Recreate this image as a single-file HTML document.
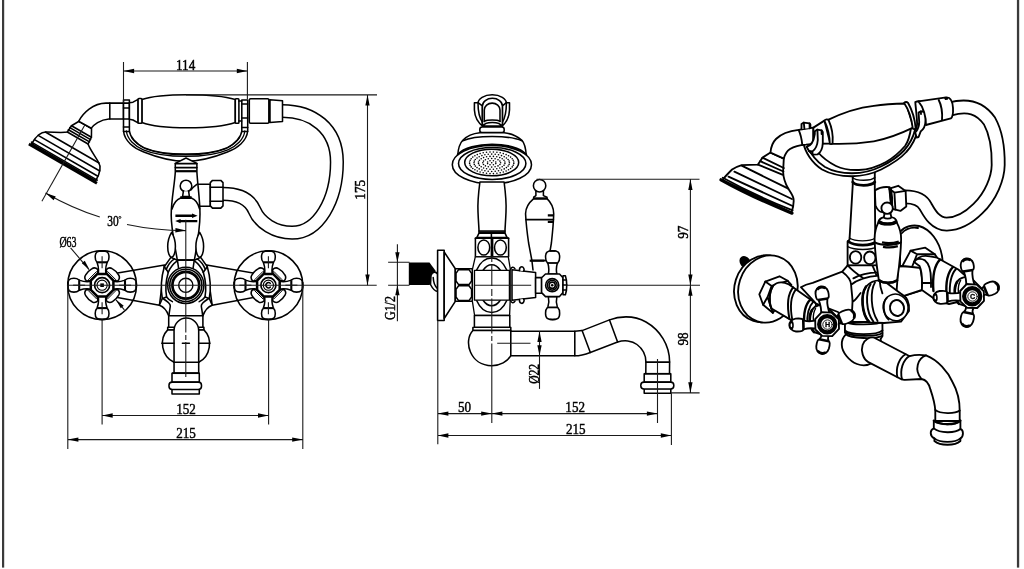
<!DOCTYPE html>
<html>
<head>
<meta charset="utf-8">
<title>Bath mixer technical drawing</title>
<style>
html,body{margin:0;padding:0;background:#fff;}
body{width:1024px;height:569px;overflow:hidden;font-family:"Liberation Serif",serif;}
svg{display:block;will-change:transform;}
.o{fill:none;stroke:#000;stroke-width:1.55;stroke-linecap:round;stroke-linejoin:round;}
.w{fill:#fff;stroke:#000;stroke-width:1.55;stroke-linecap:round;stroke-linejoin:round;}
#iso .o,#iso .w{stroke-width:1.85;}
.t{fill:none;stroke:#000;stroke-width:2.2;stroke-linecap:butt;}
.d{fill:none;stroke:#1a1a1a;stroke-width:1.1;}
.a{fill:#000;stroke:none;}
text{font-family:"Liberation Serif",serif;font-size:15px;font-weight:normal;fill:#000;stroke:#000;stroke-width:0.45px;}
</style>
</head>
<body>
<svg width="1024" height="569" viewBox="0 0 1024 569">
<rect x="0" y="0" width="1024" height="569" fill="#fff"/>
<!-- frame lines -->
<rect x="2" y="0" width="2.2" height="567.6" fill="#3a3a3a"/>
<rect x="1016.9" y="0" width="2.3" height="567.6" fill="#3a3a3a"/>

<defs>
<!-- front-view cross handle, centred at 0,0 -->
<g id="fh">
  <circle class="o" cx="0" cy="0" r="34.4"/>
  <g id="farm">
    <path class="w" d="M-4,-10 C-3.2,-15 -3.2,-18 -4.8,-22 L-5.4,-23.4 C-7.4,-25.4 -7.4,-31 -5.4,-33 C-3.5,-34.7 3.5,-34.7 5.4,-33 C7.4,-31 7.4,-25.4 5.4,-23.4 L4.8,-22 C3.2,-18 3.2,-15 4,-10 Z"/>
    <path class="t" d="M-5,-22.9 L5,-22.9" style="stroke-width:2.1"/>
    <path class="d" d="M0,-17 L0,-29"/>
    <path class="t" d="M-3.2,-34.1 L3.2,-34.1" style="stroke-width:1.7"/>
  </g>
  <use href="#farm" transform="rotate(90)"/>
  <use href="#farm" transform="rotate(180)"/>
  <use href="#farm" transform="rotate(270)"/>
  <g id="fbump">
    <path class="w" d="M-4.2,-15.6 C-6,-17.4 -8.6,-17.6 -10.4,-16.4 C-13.4,-14.6 -15.2,-12.6 -16.6,-10 C-17.6,-8.4 -17.4,-6 -15.6,-4.2 L-11.3,-4.7 L-4.7,-11.3 Z"/>
    <path class="o" d="M-5.6,-13.6 L-13.6,-5.6" style="stroke-width:1"/>
  </g>
  <use href="#fbump" transform="rotate(90)"/>
  <use href="#fbump" transform="rotate(180)"/>
  <use href="#fbump" transform="rotate(270)"/>
  <path class="w" style="stroke-width:2.5" d="M-4.7,-11.3 L4.7,-11.3 L11.3,-4.7 L11.3,4.7 L4.7,11.3 L-4.7,11.3 L-11.3,4.7 L-11.3,-4.7 Z"/>
  <circle class="o" cx="0" cy="0" r="7.5" style="stroke-width:1.7"/>
  <circle class="o" cx="0" cy="0" r="5.1" style="stroke-width:1.1"/>
</g>
<path id="ah" class="a" d="M0,0 L-10.6,-2.15 L-10.6,2.15 Z"/>
</defs>

<!-- ================= FRONT VIEW ================= -->
<g id="front">
  <!-- hose (outline via double stroke) -->
  <path d="M282.5,111 C312,111 336.9,128 336.9,162 C336.9,200.3 318.4,232.7 292.1,232.7 C275.1,232.7 259.7,222.8 254.6,210.5 C249.7,198.6 237.6,193.8 223.0,193.8" fill="none" stroke="#000" stroke-width="14.2"/>
  <path d="M282,111 C312,111 336.9,128 336.9,162 C336.9,200.3 318.4,232.7 292.1,232.7 C275.1,232.7 259.7,222.8 254.6,210.5 C249.7,198.6 237.6,193.8 222.5,193.8" fill="none" stroke="#fff" stroke-width="11.2"/>

  <!-- shower head (rotated local frame: face along x, body toward -y) -->
  <g transform="translate(62.2,164.85) rotate(30)">
    <path class="w" d="M-37,-3 C-37,-12 -35,-18 -30,-20.5 C-24,-24 -15,-28 -12,-31 L-11.5,-38.5 L-7.2,-46.2 L7.2,-46.2 L11.5,-38.5 L12,-31 C15,-28 24,-24 30,-20.5 C35,-18 37,-12 37,-3 Z"/>
    <path class="o" d="M-36.6,-8 L36.6,-8 M-35.6,-13.5 L35.6,-13.5 M-31,-20 L31,-20 M-12,-31 L12,-31 M-12.2,-33.5 L12.2,-33.5 M-12,-36 L12,-36 M-11.5,-38.5 L11.5,-38.5"/>
    <path class="t" d="M-7.2,-46.2 L7.2,-46.2" style="stroke-width:1.9"/>
    <path class="o" d="M-38,-4.3 L38,-4.3"/>
    <rect class="a" x="-39.3" y="-2.9" width="78.6" height="2.9"/>
  </g>
  <!-- pipe from head to cradle -->
  <path class="w" d="M78.6,121.3 C83,113 93,103.1 106,103.1 L123.5,103.1 L123.5,118.9 L108.9,118.9 C100,119.5 93.5,125 91.3,128.1 Z"/>
  <path class="o" d="M109.8,103.1 L109.8,118.9"/>
  <!-- head axis line -->
  <path class="d" d="M84.8,124.9 L41.9,201.2"/>

  <!-- cradle -->
  <path class="w" d="M123.5,100 L123.5,131 C124.5,141 134,148.5 143.8,152 C155,156.5 168,161.3 185.6,161.3 C203.2,161.3 216.2,156.5 227.4,152 C237.2,148.5 246.7,141 247.7,131 L247.7,100 L241.8,100 L241.8,131 C241.2,137 235.2,143.5 227.4,147.6 C217.2,152 203.2,154.1 185.6,154.1 C168,154.1 154,152 143.8,147.6 C136,143.5 130,137 129.4,131 L129.4,100 Z"/>
  <path class="o" d="M126.4,131 C127.2,139 134.4,146 143.4,149.8 C154,154.3 168,156.3 185.6,156.3 C203.2,156.3 217.2,154.3 227.8,149.8 C236.8,146 244,139 244.8,131" style="stroke-width:1.3"/>
  <path class="o" d="M131.5,137.5 C135,143 140,146.4 146,148.8 C156,152.6 169,154.9 185.6,154.9 C202.2,154.9 215.2,152.6 225.2,148.8 C231.2,146.4 236.2,143 239.7,137.5" style="stroke-width:1.3"/>
  <path class="o" d="M123.5,103.1 L129.4,103.1 M123.5,108 L129.4,108 M123.5,118.9 L129.4,118.9 M123.5,127 L129.4,127 M123.5,131.5 L129.4,131.5 M241.8,104 L247.7,104 M241.8,118 L247.7,118 M241.8,127.5 L247.7,127.5 M241.8,131.5 L247.7,131.5"/>
  <!-- handle -->
  <path class="w" d="M129.4,102.7 L133,102.2 L138.1,99.3 L138.1,122.9 L133,120 L129.4,119.3 Z"/>
  <path class="w" d="M141.9,99.5 C160,93.1 215,93.1 235.3,99.5 L235.3,122.5 C215,129.6 160,129.6 141.9,122.5 Z"/>
  <rect class="w" x="138.1" y="98.4" width="3.8" height="24.8" rx="0.8"/>
  <rect class="w" x="235.3" y="98.8" width="3.6" height="24.4" rx="0.8"/>
  <path class="o" d="M238.9,101 L241.6,101 M238.9,121 L241.6,121"/>
  <!-- connector -->
  <rect class="w" x="249.3" y="98.8" width="19.6" height="24.4" rx="1.2"/>
  <path class="w" d="M269.9,99.7 L282.5,100.8 L282.5,121.5 L269.9,122.4 Z"/>
  <path class="t" d="M269.4,99.3 L269.4,122.8" style="stroke-width:1.7"/>

  <!-- side outlet + nut -->
  <path class="w" d="M197,184.3 L210.3,184.3 L210.3,206.2 L199,206.2 Z"/>
  <path class="w" d="M212.5,180.4 L220.8,180.4 L223,182.6 L223,205.9 L220.8,208.1 L212.5,208.1 L210.3,205.9 L210.3,182.6 Z"/>
  <path class="o" d="M210.3,187.3 L223,187.3 M210.3,201.2 L223,201.2"/>

  <!-- support column -->
  <path class="w" d="M175.3,172 L175.3,163.4 L186,158 L196.9,163.4 L196.9,172 C197.6,185 200,200 200,214 C200,230 196.4,248 194.4,260 L177.3,260 C175.4,248 171.2,230 171.2,215 C171.2,200 174.6,185 175.3,172 Z"/>
  <path class="o" d="M175.3,163.6 L196.9,163.6 M175.3,167.6 L196.9,167.6"/>
  <path class="t" d="M175.3,171.2 L196.9,171.2" style="stroke-width:2.2"/>
  <!-- lever knob front -->
  <circle class="w" cx="186" cy="186" r="5.8"/>
  <path class="w" d="M183.4,191.2 L182.6,196.5 L189.4,196.5 L188.6,191.2"/>
  <path class="o" d="M172,209 C173.4,204 176.6,199.5 180.6,198 L191.4,198 C195.4,199.5 198.4,204 199.6,209"/>
  <path class="t" d="M180.3,197.6 L191.6,197.6" style="stroke-width:2.8"/>
  <path class="o" d="M196.8,184.3 C193,187 191.5,189 191,190"/>
  <!-- arrows on lever -->
  <path class="t" d="M175.4,215.8 L193.6,215.8 M179,221.1 L197.3,221.1" style="stroke-width:2.4"/>
  <path class="a" d="M197.6,215.8 L192,213.6 L192,218 Z M175.2,221.1 L180.6,218.9 L180.6,223.3 Z"/>
  <!-- ears -->
  <path class="w" d="M171.6,232.4 C169.4,236 167.7,241 167.7,246.5 C167.7,252.5 169.4,257.2 171.6,257.2 C173.8,257.2 175.4,252.5 175.4,246.5 C175.4,241 173.8,236 171.6,232.4 Z"/>
  <path class="w" d="M199.7,232.4 C201.9,236 203.6,241 203.6,246.5 C203.6,252.5 201.9,257.2 199.7,257.2 C197.5,257.2 195.9,252.5 195.9,246.5 C195.9,241 197.5,236 199.7,232.4 Z"/>
  
  <path class="t" d="M177.3,260.5 L194.4,260.5" style="stroke-width:2.2"/>

  <!-- arms -->
  <path class="w" d="M206.6,264.9 L256.3,273.5 L256.3,296.9 L212.2,305.3 Z"/>
  <path class="w" d="M164.6,264.9 L114.7,273.5 L114.7,296.9 L159.4,305.3 Z"/>
  <!-- body -->
  <path class="w" d="M177.3,260.2 L170.9,257.4 L164.3,266.7 Q159.6,283 162.3,298.5 L159.4,305.3 C163.5,306.8 166.8,310.5 168.7,315.8 L202.9,315.8 C204.8,310.5 208.1,306.8 212.2,305.3 L209.3,298.5 Q212,283 207.3,266.7 L200.7,257.4 L194.4,260.2 Z"/>
  <path class="o" d="M168.3,272.3 Q164.5,285.3 166.6,297 L162.5,298.5 M203.3,272.3 Q207.1,285.3 205,297 L209.1,298.5"/>
  <path class="o" d="M168.3,272.3 L164.3,266.7 M203.3,272.3 L207.3,266.7"/>
  <path class="o" d="M168.3,272.3 C170,268 173,264 177.5,260.7 M203.3,272.3 C201.6,268 198.6,264 194.2,260.7"/>
  <path class="o" d="M166.2,269.4 C168,265 171,261 174.4,258.8 M205.4,269.4 C203.6,265 200.6,261 197.2,258.8"/>
  <path class="o" d="M177.5,260.7 L178.8,270 M194.2,260.7 L192.8,270"/>
  <path class="o" d="M162.7,298.4 C166,300.5 170.5,303 170.3,306 C170,309 169.2,312 169,315.8 M208.9,298.4 C205.6,300.5 201.1,303 201.3,306 C201.6,309 202.4,312 202.6,315.8"/>
  <path class="o" d="M166.6,297 C168,299 170,300.6 172.4,301.6 M205,297 C203.6,299 201.6,300.6 199.2,301.6"/>
  <circle class="w" cx="185.8" cy="285.3" r="18.1"/>
  <circle class="o" cx="185.8" cy="285.3" r="16.1"/>
  <circle class="o" cx="185.8" cy="285.3" r="13.4" style="stroke-width:2.7"/>
  <circle class="o" cx="185.8" cy="285.3" r="7.1" style="stroke-width:1.4"/>

  <!-- lower neck, ball, spout -->
  <path class="w" d="M168.7,315.8 L202.9,315.8 L202.9,327.3 L203.9,327.3 L203.9,329.9 L167.7,329.9 L167.7,327.3 L168.7,327.3 Z"/>
  <path class="o" d="M168.7,327.3 L202.9,327.3"/>
  <path class="w" d="M167.7,329.9 C158.6,339 161.6,356.5 174.05,362.3 L198.7,362.3 C210.4,356.5 213.4,339 203.9,329.9 Z"/>
  <path class="w" d="M174.05,373.2 L174.05,330.4 A12.3,12.3 0 0 1 198.7,330.4 L198.7,373.2 Z"/>
  <path class="o" d="M174.05,362.3 L198.7,362.3 M161.8,343.2 L174,343.2 M198.7,343.2 L210,343.2 M182.4,343.2 L189.4,343.2"/>
  <rect class="w" x="172" y="373.2" width="27.3" height="9"/>
  <rect class="w" x="172" y="389" width="27.3" height="4.9"/>
  <rect class="w" x="169" y="382.1" width="32.5" height="7.4" rx="3.2"/>
  <path class="t" d="M172,373.2 L199.3,373.2" style="stroke-width:1.7"/>


  <!-- flanges + handles -->
  <use href="#fh" x="102.1" y="285.2"/>
  <use href="#fh" x="268.4" y="285.2"/>
  <rect class="a" x="100.3" y="283.4" width="3.6" height="3.6"/>
  <path class="o" d="M270.3,283.3 A2.6,2.6 0 1 0 270.3,287.1" style="stroke-width:1.5"/>
  <!-- centre lines -->
  <path class="d" d="M185.8,219.8 L185.8,332.6 M185.8,335 L185.8,340 M185.8,342 L185.8,377"/>
  <path class="d" d="M67,285.2 L376.7,285.2"/>
</g>


<!-- ================= FRONT VIEW DIMENSIONS ================= -->
<g id="fdim">
  <!-- 114 -->
  <path class="d" d="M123.5,62 L123.5,103 M247.4,62 L247.4,99 M123.5,71 L247.4,71"/>
  <use href="#ah" transform="translate(123.5,71) rotate(180)"/>
  <use href="#ah" transform="translate(247.4,71)"/>
  <text transform="translate(185.6,69.6) scale(0.875,1)" text-anchor="middle">114</text>
  <!-- 175 -->
  <path class="d" d="M186,94.9 L377,94.9 M367.5,94.9 L367.5,285.2"/>
  <use href="#ah" transform="translate(367.5,94.9) rotate(-90)"/>
  <use href="#ah" transform="translate(367.5,285.2) rotate(90)"/>
  <text transform="translate(365,189.8) rotate(-90) scale(0.875,1)" text-anchor="middle">175</text>
  <!-- 30 deg arc -->
  <path class="d" d="M45.5,193 A281,281 0 0 0 99.8,217.1 M127,224.5 A281,281 0 0 0 186,230.6"/>
  <use href="#ah" transform="translate(45.5,193) rotate(-150)"/>
  <use href="#ah" transform="translate(186,230.6) rotate(2)"/>
  <text transform="translate(107.3,225.6) scale(0.76,1)">30</text>
  <circle cx="119.9" cy="217.4" r="1.0" fill="none" stroke="#000" stroke-width="0.9"/>
  <!-- diam 63 -->
  <text transform="translate(59.4,246.5) scale(0.71,1)" style="font-size:14px">&#216;63</text>
  <path class="d" d="M70.6,247.8 L89,269.6 M116,299.8 L124.4,309.8"/>
  <use href="#ah" transform="translate(89.4,269.4) rotate(50) scale(0.9,0.9)"/>
  <use href="#ah" transform="translate(116,299.8) rotate(229) scale(0.9,0.9)"/>
  <!-- 152 -->
  <path class="d" d="M102.1,319.6 L102.1,424.6 M268.6,319.6 L268.6,424.6 M102.1,415.5 L268.6,415.5"/>
  <use href="#ah" transform="translate(102.1,415.5) rotate(180)"/>
  <use href="#ah" transform="translate(268.6,415.5)"/>
  <text transform="translate(186,413.6) scale(0.875,1)" text-anchor="middle">152</text>
  <!-- 215 -->
  <path class="d" d="M67.8,285.2 L67.8,448.9 M302.8,285.2 L302.8,448.9 M67.8,439.6 L302.8,439.6"/>
  <use href="#ah" transform="translate(67.8,439.6) rotate(180)"/>
  <use href="#ah" transform="translate(302.8,439.6)"/>
  <text transform="translate(186,438) scale(0.875,1)" text-anchor="middle">215</text>
</g>


<!-- ================= SIDE VIEW ================= -->
<g id="side">
  <!-- top arch + bracket -->
  <path class="w" d="M477.9,103.6 A14.3,8.9 0 0 1 506.5,103.6 L506.5,112 L477.9,112 Z"/>
  <path class="w" d="M474.4,102.7 L478,102.7 L482.4,105.9 L482.4,126.6 L502.4,126.6 L502.4,105.9 L506.4,102.7 L509.5,102.7 L509.5,110 C509.2,118 505,124 501.4,126.8 L483.4,126.8 C479.6,124 474.8,118 474.4,110 Z"/>
  <path class="o" d="M478,102.7 C478,110 479.4,118 482.6,122.6 M506.4,102.7 C506.4,110 505,118 502.2,122.6"/>
  <path class="w" d="M482.4,125 L482.4,105.9 A10,7.6 0 0 1 502.4,105.9 L502.4,125 Z"/>
  <path class="o" d="M484.3,121.4 L484.3,110 A7.85,6.9 0 0 1 500,110 L500,121.4"/>
  <path class="o" d="M484.3,121.4 C487,119.6 497.4,119.6 500,121.4"/>
  <!-- neck rings -->
  <path class="w" d="M483.4,126 C484,123.4 488,122.4 492.3,122.4 C496.6,122.4 500.6,123.4 501.2,126 Z"/>
  <rect class="w" x="479.8" y="127" width="24.4" height="5.6" rx="2.4"/>
  
  <!-- bell -->
  <path class="w" d="M457.6,156 C458.3,147 460,143 462.8,140.3 C467,136 473,133.5 479.8,132.8 L504.2,132.8 C511,133.5 517,136 521.9,140.3 C524.4,143 525.8,147 526.3,156 Z"/>
  <path class="o" d="M462.8,140.8 C475,135 509,135 521.9,140.8"/>
  <!-- face ellipses -->
  <ellipse class="w" cx="491.9" cy="164.7" rx="39.6" ry="19.2"/>
  <path class="o" d="M457.8,154.5 C470,141 514,141 526.2,154.5" style="stroke-width:2"/>
  <ellipse class="o" cx="492.2" cy="163.5" rx="33.7" ry="16"/>
  <ellipse class="o" cx="491.7" cy="162.5" rx="27" ry="13.3"/>
  <g id="dots" fill="#000"><circle cx="491.7" cy="162.8" r="0.8"/><circle cx="495.8" cy="163.6" r="0.8"/><circle cx="493.4" cy="164.8" r="0.8"/><circle cx="490.0" cy="164.8" r="0.8"/><circle cx="487.6" cy="163.6" r="0.8"/><circle cx="487.6" cy="162.0" r="0.8"/><circle cx="490.0" cy="160.8" r="0.8"/><circle cx="493.4" cy="160.8" r="0.8"/><circle cx="495.8" cy="162.0" r="0.8"/><circle cx="500.6" cy="162.8" r="0.8"/><circle cx="499.9" cy="164.5" r="0.8"/><circle cx="498.0" cy="165.9" r="0.8"/><circle cx="495.1" cy="166.8" r="0.8"/><circle cx="491.7" cy="167.1" r="0.8"/><circle cx="488.3" cy="166.8" r="0.8"/><circle cx="485.4" cy="165.9" r="0.8"/><circle cx="483.5" cy="164.5" r="0.8"/><circle cx="482.8" cy="162.8" r="0.8"/><circle cx="483.5" cy="161.1" r="0.8"/><circle cx="485.4" cy="159.7" r="0.8"/><circle cx="488.3" cy="158.8" r="0.8"/><circle cx="491.7" cy="158.5" r="0.8"/><circle cx="495.1" cy="158.8" r="0.8"/><circle cx="498.0" cy="159.7" r="0.8"/><circle cx="499.9" cy="161.1" r="0.8"/><circle cx="504.9" cy="163.6" r="0.8"/><circle cx="504.0" cy="165.3" r="0.8"/><circle cx="502.2" cy="166.8" r="0.8"/><circle cx="499.8" cy="168.0" r="0.8"/><circle cx="496.8" cy="168.8" r="0.8"/><circle cx="493.4" cy="169.2" r="0.8"/><circle cx="490.0" cy="169.2" r="0.8"/><circle cx="486.6" cy="168.8" r="0.8"/><circle cx="483.6" cy="168.0" r="0.8"/><circle cx="481.2" cy="166.8" r="0.8"/><circle cx="479.4" cy="165.3" r="0.8"/><circle cx="478.5" cy="163.6" r="0.8"/><circle cx="478.5" cy="162.0" r="0.8"/><circle cx="479.4" cy="160.3" r="0.8"/><circle cx="481.2" cy="158.8" r="0.8"/><circle cx="483.6" cy="157.6" r="0.8"/><circle cx="486.6" cy="156.8" r="0.8"/><circle cx="490.0" cy="156.4" r="0.8"/><circle cx="493.4" cy="156.4" r="0.8"/><circle cx="496.8" cy="156.8" r="0.8"/><circle cx="499.8" cy="157.6" r="0.8"/><circle cx="502.2" cy="158.8" r="0.8"/><circle cx="504.0" cy="160.3" r="0.8"/><circle cx="504.9" cy="162.0" r="0.8"/><circle cx="509.4" cy="162.8" r="0.8"/><circle cx="509.1" cy="164.5" r="0.8"/><circle cx="508.1" cy="166.1" r="0.8"/><circle cx="506.4" cy="167.6" r="0.8"/><circle cx="504.2" cy="168.9" r="0.8"/><circle cx="501.5" cy="170.0" r="0.8"/><circle cx="498.5" cy="170.8" r="0.8"/><circle cx="495.2" cy="171.3" r="0.8"/><circle cx="491.7" cy="171.5" r="0.8"/><circle cx="488.2" cy="171.3" r="0.8"/><circle cx="484.9" cy="170.8" r="0.8"/><circle cx="481.9" cy="170.0" r="0.8"/><circle cx="479.2" cy="168.9" r="0.8"/><circle cx="477.0" cy="167.6" r="0.8"/><circle cx="475.3" cy="166.1" r="0.8"/><circle cx="474.3" cy="164.5" r="0.8"/><circle cx="474.0" cy="162.8" r="0.8"/><circle cx="474.3" cy="161.1" r="0.8"/><circle cx="475.3" cy="159.5" r="0.8"/><circle cx="477.0" cy="158.0" r="0.8"/><circle cx="479.2" cy="156.7" r="0.8"/><circle cx="481.9" cy="155.6" r="0.8"/><circle cx="484.9" cy="154.8" r="0.8"/><circle cx="488.2" cy="154.3" r="0.8"/><circle cx="491.7" cy="154.1" r="0.8"/><circle cx="495.2" cy="154.3" r="0.8"/><circle cx="498.5" cy="154.8" r="0.8"/><circle cx="501.5" cy="155.6" r="0.8"/><circle cx="504.2" cy="156.7" r="0.8"/><circle cx="506.4" cy="158.0" r="0.8"/><circle cx="508.1" cy="159.5" r="0.8"/><circle cx="509.1" cy="161.1" r="0.8"/><circle cx="513.8" cy="163.6" r="0.8"/><circle cx="513.2" cy="165.3" r="0.8"/><circle cx="512.2" cy="166.9" r="0.8"/><circle cx="510.6" cy="168.5" r="0.8"/><circle cx="508.5" cy="169.8" r="0.8"/><circle cx="506.1" cy="171.0" r="0.8"/><circle cx="503.3" cy="172.0" r="0.8"/><circle cx="500.2" cy="172.8" r="0.8"/><circle cx="496.9" cy="173.3" r="0.8"/><circle cx="493.4" cy="173.6" r="0.8"/><circle cx="490.0" cy="173.6" r="0.8"/><circle cx="486.5" cy="173.3" r="0.8"/><circle cx="483.2" cy="172.8" r="0.8"/><circle cx="480.1" cy="172.0" r="0.8"/><circle cx="477.3" cy="171.0" r="0.8"/><circle cx="474.9" cy="169.8" r="0.8"/><circle cx="472.8" cy="168.5" r="0.8"/><circle cx="471.2" cy="166.9" r="0.8"/><circle cx="470.2" cy="165.3" r="0.8"/><circle cx="469.6" cy="163.6" r="0.8"/><circle cx="469.6" cy="162.0" r="0.8"/><circle cx="470.2" cy="160.3" r="0.8"/><circle cx="471.2" cy="158.7" r="0.8"/><circle cx="472.8" cy="157.1" r="0.8"/><circle cx="474.9" cy="155.8" r="0.8"/><circle cx="477.3" cy="154.6" r="0.8"/><circle cx="480.1" cy="153.6" r="0.8"/><circle cx="483.2" cy="152.8" r="0.8"/><circle cx="486.5" cy="152.3" r="0.8"/><circle cx="490.0" cy="152.0" r="0.8"/><circle cx="493.4" cy="152.0" r="0.8"/><circle cx="496.9" cy="152.3" r="0.8"/><circle cx="500.2" cy="152.8" r="0.8"/><circle cx="503.3" cy="153.6" r="0.8"/><circle cx="506.1" cy="154.6" r="0.8"/><circle cx="508.5" cy="155.8" r="0.8"/><circle cx="510.6" cy="157.1" r="0.8"/><circle cx="512.2" cy="158.7" r="0.8"/><circle cx="513.2" cy="160.3" r="0.8"/><circle cx="513.8" cy="162.0" r="0.8"/></g>
  <!-- column -->
  <path class="w" d="M479.9,182 C478.2,195 477.6,205 478,212 C478.4,222 479,228 479,231 L479,233.2 L476.8,237.6 L507.1,237.6 L505,233.2 L505,231 C505,228 505.6,222 506,212 C506.4,205 505.8,195 504.1,182 Z"/>
  <path class="o" d="M479,231 L505,231 M479,233.2 L505,233.2"/>
  <path class="t" d="M479,232.2 L505,232.2" style="stroke-width:1.8"/>
  <rect class="w" x="475.4" y="238.3" width="33.2" height="18.5"/>
  <path class="o" d="M476.8,237.6 L475.4,238.3 M507.1,237.6 L508.6,238.3"/>
  <ellipse class="o" cx="483.8" cy="247.5" rx="5.9" ry="7.6"/>
  <ellipse class="o" cx="500.4" cy="247.5" rx="5.9" ry="7.6"/>
  <path class="o" d="M491.4,233.5 L491.4,256.8 M492.6,238.3 L492.6,256.8"/>

  <!-- body outline behind block -->
  <path class="w" d="M475.3,256.8 L472.2,270.3 L472.2,300.2 L474.6,315.5 L509.6,315.5 L510.2,300.2 L510.2,268.5 L508.3,256.8 Z" style="stroke-width:1.3"/>
  <!-- arcs -->
  <path class="o" d="M476.5,270.3 A18.2,27.2 0 0 1 506.9,270.3 M476.5,300.2 A18.2,27.2 0 0 0 506.9,300.2"/>
  <path class="o" d="M483.1,270.3 A12.6,20.4 0 0 1 500.3,270.3 M483.1,300.2 A12.6,20.4 0 0 0 500.3,300.2"/>
  <!-- block -->
  <rect class="w" x="474.5" y="270.3" width="34.9" height="29.9" style="stroke-width:1.3"/>
  <!-- tapered piece + stem -->
  <path class="w" d="M512,269.8 L535.6,272.6 L535.6,297.5 L512,300.3 Z"/>
  <rect class="w" x="535.6" y="277.6" width="6" height="15.6"/>
  <!-- ears -->
  <path class="w" d="M519.5,270.6 C519,266.5 522.5,265.8 523.6,268 C524.2,269.2 524,270.8 523.4,271.2 M519.5,299.5 C519,303.6 522.5,304.3 523.6,302.1 C524.2,300.9 524,299.3 523.4,298.9"/>
  <path class="o" d="M510.5,269.5 C511.5,267 513.5,266.5 515,268.8 M510.5,300.5 C511.5,303 513.5,303.5 515,301.2"/>
  <!-- neck -->
  <path class="w" d="M474.4,315.5 L509.8,315.5 L509.8,327.3 L510.8,327.6 L510.8,330.5 L472.9,330.5 L472.9,327.6 L474.4,327.3 Z"/>
  <path class="o" d="M474.4,327.3 L509.8,327.3"/>
  <!-- ball -->
  <path class="w" d="M472.9,330.5 C463,341 470,365.7 491.8,365.7 C500,365.7 507.5,361.5 510.8,355.6 L510.8,330.5 Z"/>
  <!-- spout -->
  <path class="w" d="M510.8,331.3 L574.8,331.3 L582.1,330.6 L609.5,319.9 C618,316.5 633,314.5 646,322 C660,330 669.6,345 669.6,362 L669.5,373.7 L645.8,373.7 L645.9,362 C645.9,355 643,349 637,344.5 C632,340.5 624,339.8 617.6,342.1 L590.3,352.4 C585,354.5 580,355.8 574.8,355.8 L510.8,355.8 Z"/>
  <path class="o" d="M574.8,331.3 L574.8,355.8 M582.1,330.6 L590.3,352.4 M609.5,319.9 L617.6,342.1 M645.9,362.1 L669.6,362.1"/>
  <!-- aerator -->
  <rect class="w" x="644.2" y="373.7" width="26.6" height="8.6"/>
  <rect class="w" x="644.2" y="388.4" width="26.6" height="4.8"/>
  <rect class="w" x="640.8" y="382.1" width="33" height="6.8" rx="3.2"/>
  <path class="t" d="M644.2,373.7 L670.8,373.7" style="stroke-width:1.6"/>

  <!-- wall connection -->
  <path class="a" d="M408.8,262.4 L429.5,262.4 L435.4,270.5 L435.4,279 L429.5,285 L408.8,285 Z"/>
  <path class="w" d="M431,275.5 C432.5,271 436,271.5 437.6,274 L437.6,291.5 C434.5,291 432,287.5 430.5,284.5 Z"/>
  <path class="o" d="M433.2,277.5 C433.4,281.5 434.6,286 437.4,288.5"/>
  <rect class="w" x="437.6" y="250.3" width="6.6" height="70.2"/>
  <path class="w" d="M444.2,252 L455.3,268.8 L455.3,301.3 L444.2,318.5 Z"/>
  <rect class="w" x="455.3" y="268.8" width="17" height="32.5"/>
  <path class="w" d="M458.6,269.6 L469,269.6 L471.6,273.4 L471.6,281 L469,284.6 L458.6,284.6 L456,281 L456,273.4 Z"/>
  <path class="w" d="M458.6,285.8 L469,285.8 L471.6,289.4 L471.6,297 L469,300.6 L458.6,300.6 L456,297 L456,289.4 Z"/>

  <!-- lever -->
  <path class="w" d="M533.7,198.6 C528.5,203 525.3,209 525.6,214.5 C526,222 527,232 528.6,243 L531.9,260.5 L548.4,260.5 L551.4,243 C552.6,232 553.5,222 553.7,214.5 C553.9,209 551.6,203 547,198.6 Z"/>
  <path class="o" d="M525.9,219.6 L553.4,219.6"/>
  <path class="t" d="M547.8,215.4 L553.8,215.4 M547.8,221.8 L553.8,221.8" style="stroke-width:2.2"/>
  <path class="w" d="M535.9,191 L535.9,195.6 L533.7,197.2 L533.7,198.8 L547,198.8 L547,197.2 L543.4,195.6 L543.4,191 Z"/>
  <path class="t" d="M533.7,198.2 L547,198.2" style="stroke-width:1.8"/>
  <circle class="w" cx="539.6" cy="185.7" r="6.2"/>
  <path class="t" d="M529.7,260.7 L544.5,260.7" style="stroke-width:2.2"/>
  <path class="o" d="M531.9,260.5 L533,270 "/>

  <!-- side handle -->
  <g id="sknob">
    <path class="w" d="M548.3,274 C549.2,270 549.2,267.5 547.9,263.6 L547.2,262.5 C545,260.5 545,253.5 547.2,252 C549.2,250.3 556,250.3 558,252 C560.2,253.5 560.2,260.5 558,262.5 L557.3,263.6 C556,267.5 556,270 556.9,274 Z"/>
    <path class="t" d="M547.7,263 L557.5,263" style="stroke-width:1.8"/>
    <path class="t" d="M549.6,251 L555.6,251" style="stroke-width:1.6"/>
  </g>
  <use href="#sknob" transform="translate(0,570.4) scale(1,-1)"/>
  <path class="w" d="M545.5,274 L559.5,274 L563,277.8 L563,292.6 L559.5,296.6 L545.5,296.6 L541.6,292.6 L541.6,277.8 Z"/>
  <path class="w" d="M563,275.8 L565.4,275.8 C567.2,281 567.2,289.6 565.4,294.8 L563,294.8 Z"/>
  <path class="o" d="M563,280 L566.4,280 M563,285 L566.8,285 M563,290 L566.4,290"/>
  <circle class="o" cx="552.2" cy="285.2" r="6.6"/>
  <circle class="o" cx="552.2" cy="285.2" r="4.9"/>
  <circle class="o" cx="552.2" cy="285.2" r="3.1"/>
  <circle class="a" cx="552.2" cy="285.2" r="1.3"/>

  <!-- centre lines -->
  <path class="d" d="M491.8,257 L491.8,262 M491.8,264.5 L491.8,286 M491.8,289 L491.8,296 M491.8,298.5 L491.8,333.5 M491.8,336 L491.8,341 M491.8,343.5 L491.8,423"/>
  <path class="d" d="M474.4,285.2 L531.2,285.2 M497.2,343.2 L530.5,343.2 M657.5,358.9 L657.5,423"/>
</g>

<!-- ================= SIDE VIEW DIMENSIONS ================= -->
<g id="sdim">
  <!-- G1/2 -->
  <path class="d" d="M388.1,262.3 L409.5,262.3 M388.1,285.2 L409.5,285.2 M397.4,244.2 L397.4,321.3"/>
  <use href="#ah" transform="translate(397.4,262.3) rotate(90) scale(0.95,1)"/>
  <use href="#ah" transform="translate(397.4,285.2) rotate(-90) scale(0.95,1)"/>
  <text transform="translate(395.2,319.9) rotate(-90) scale(0.82,1)" style="font-size:14.5px">G1/2</text>
  <!-- 97 / 98 -->
  <path class="d" d="M536.6,179.3 L699.5,179.3 M566.6,285.2 L700,285.2 M670.8,392.9 L699.6,392.9 M690.4,179.3 L690.4,392.9"/>
  <use href="#ah" transform="translate(690.4,179.3) rotate(-90)"/>
  <use href="#ah" transform="translate(690.4,285.2) rotate(90)"/>
  <use href="#ah" transform="translate(690.4,285.2) rotate(-90)"/>
  <use href="#ah" transform="translate(690.4,392.9) rotate(90)"/>
  <text transform="translate(687.8,232.3) rotate(-90) scale(0.875,1)" text-anchor="middle">97</text>
  <text transform="translate(687.8,339) rotate(-90) scale(0.875,1)" text-anchor="middle">98</text>
  <!-- dia 22 -->
  <path class="d" d="M539.5,331.3 L539.5,388.9"/>
  <use href="#ah" transform="translate(539.5,331.3) rotate(-90)"/>
  <use href="#ah" transform="translate(539.5,355.8) rotate(90)"/>
  <text transform="translate(538.6,383.8) rotate(-90) scale(0.8,1)" style="font-size:14.5px">&#216;22</text>
  <!-- 50 / 152 / 215 -->
  <path class="d" d="M437.8,320.5 L437.8,444.3 M671.4,393.2 L671.4,445 M437.8,413.6 L657.5,413.6 M437.8,435.5 L671.4,435.5"/>
  <use href="#ah" transform="translate(437.8,413.6) rotate(180)"/>
  <use href="#ah" transform="translate(491.8,413.6)"/>
  <use href="#ah" transform="translate(491.8,413.6) rotate(180)"/>
  <use href="#ah" transform="translate(657.5,413.6)"/>
  <use href="#ah" transform="translate(437.8,435.5) rotate(180)"/>
  <use href="#ah" transform="translate(671.4,435.5)"/>
  <text transform="translate(464.5,411.6) scale(0.875,1)" text-anchor="middle">50</text>
  <text transform="translate(575.2,411.6) scale(0.875,1)" text-anchor="middle">152</text>
  <text transform="translate(575.8,433.5) scale(0.875,1)" text-anchor="middle">215</text>
</g>

<!-- ================= ISOMETRIC VIEW ================= -->
<g id="iso">
  <!-- hose -->
  <path d="M950,109 C968,104 980,107.5 989.5,121 C996.4,133.4 998.4,150 998.2,165 C998,178 991,196 978,208.5 C970,216.5 959,223.8 946.7,224.2 C935.3,224 929.7,213.7 925.8,206.8 C922.5,200 914.4,196.9 905,196.9" fill="none" stroke="#000" stroke-width="14.8"/>
  <path d="M950,109 C968,104 980,107.5 989.5,121 C996.4,133.4 998.4,150 998.2,165 C998,178 991,196 978,208.5 C970,216.5 959,223.8 946.7,224.2 C935.3,224 929.7,213.7 925.8,206.8 C922.5,200 914.4,196.9 905,196.9" fill="none" stroke="#fff" stroke-width="11.2"/>

  <!-- right wall flange (behind) -->
  <path class="w" d="M900,232 C905,226 913,224.6 919,226 C930,229 939.5,241 942,256 C943,262 942.5,268 941,272 L900,272 Z"/>
  <path class="o" d="M901.5,233.5 C906,228.5 912,227 918,228"/>

  <!-- side outlet + nut -->
  <path class="w" d="M874.8,190.5 C879,187.6 885,186.6 889.6,187.2 L891.4,209 L883,212 C880,212.5 877,209 875.5,205.5 Z"/>
  <path class="w" d="M889.3,188.7 L898.2,185.8 L905.6,190.9 L906.3,206.4 L900.4,210.9 L891.5,208.7 Z"/>
  <path class="o" d="M889.3,188.7 L894.4,192.6 L905.6,190.9 M894.4,192.6 L895.4,209.6 M891,189 C892.2,195 892.6,202 892.2,208.6" />
  <path class="o" d="M890.2,188.4 C891.4,195 891.8,202 891.4,208.6" style="stroke-width:1.7"/>

  <!-- column -->
  <path class="w" d="M852.7,172 L852.7,185.8 L849.5,239.6 L847.6,241.5 L847.6,265.6 L877.1,265.6 L877.1,241.5 L875.3,239.6 L874.8,188.7 L874.8,172 Z"/>
  <path class="o" d="M852.7,177.6 C856,181.2 871,181.2 874.8,177.6" style="stroke-width:1.4"/>
  <path class="o" d="M852.7,182 C856,186.4 871,186.4 874.8,182" style="stroke-width:2.8"/>
  <path class="o" d="M849.5,238 C855,241.8 870,241.8 875.3,238" style="stroke-width:1.4"/>
  <path class="o" d="M848.4,241.6 C855,246.2 871,246.2 876.5,241.6" style="stroke-width:2.8"/>
  <path class="o" d="M847.6,246.6 C855,250.4 871,250.4 877.1,246.6" style="stroke-width:1.4"/>
  <ellipse class="o" cx="855.6" cy="257.4" rx="5.7" ry="6.3"/>
  <ellipse class="o" cx="869.8" cy="257.8" rx="5.7" ry="6.3"/>
  <!-- cradle (behind handle) -->
  <path class="w" d="M803.5,143 C805,152 812,163 822.1,169.5 C831,174.5 841,176.2 851.7,176.2 C862,176.2 872,174 881.2,169.5 C892,164 901,158 906.3,152 C912,146 916,138 918.5,128 L911,128 C910,135 908,142 905,146 C899,153 893,158 886,162 C877,167 868,169.6 859,170 C849,170.3 842,169 836,166 C828,162 822,157 817.7,152 C815,149 813.5,146 812.5,143 Z"/>
  <path class="o" d="M808,146 C811,155 817,162 825,167 C833,171.5 842,173.2 852,173.2 C862,173.2 872,171 881,166.5 C891,161.5 899,156 904,150.5 C909,145 913,138 915,130" style="stroke-width:1.9"/>

  <!-- shower head -->
  <path class="w" d="M770.5,152.5 L762.4,157.7 L758,164.6 L741.7,165.1 C737,166.5 734,168 732.1,169.5 C728.5,173 725,176.5 722.5,180 L791.5,212.5 C793,208 794,204 793.6,199.5 C793.3,195.5 791,193 788.3,188.7 C785,183 783.3,178 783.1,171.7 L783.8,158.5 Z"/>
  <path class="o" d="M762.4,157.7 L783.8,168 M760.2,161.2 L783.4,171.5 M758,164.6 L782.3,174.7 M741.7,165.6 L788.3,188.7 M734.4,171.7 L791.9,199 M728.5,176.6 L792.6,206"/>
  <path class="t" d="M770.5,152.5 L783.8,158.5" style="stroke-width:2"/>
  <path d="M721,179.8 C742,191.5 768,203.5 792,213.2" fill="none" stroke="#000" stroke-width="3.2" stroke-linecap="round"/>
  <path class="o" d="M722.8,177.8 C743,189 769,201 792.6,210.4"/>
  <!-- pipe from head -->
  <path class="w" d="M770.5,152.5 C771,146 773,142 776,139 C781,134 789,131 798.6,129.9 L813.4,127.6 L813.4,143.9 L806,144.6 C800,145 794,146.5 790,149 C787,151 785,154 783.8,158.5 Z"/>
  <path class="o" d="M798.6,129.9 C800.5,134 801.8,140 802.3,144.8"/>
  <!-- top tab -->
  <path class="w" d="M801.5,129 L801.5,124 L803.8,122.6 L809.6,123.4 L810.4,124.6 L810.4,128"/>
  <path class="o" d="M803.8,122.6 L804.4,128.6 M809.6,123.4 L809.6,128.2"/>
  <!-- handle collar -->
  <path class="w" d="M813.4,127.6 L824.4,120.6 L830.3,143.5 L813.4,143.9 Z"/>
  <!-- handle -->
  <path class="w" d="M828,119.9 C842,113 858,107.6 873.8,105.8 C885,104.3 896,103.8 906,103.5 L913.6,127.4 C900,134 887,139 873.8,141.3 C860,143.4 845,144.2 831.7,143.8 Z"/>
  <path class="w" d="M824.4,120.6 C825.8,119 827.6,119 828.6,120.2 C831.6,127 833.2,136 832.6,143 C831.8,144.4 830.6,144.4 829.8,143.6 C829.6,136 827.4,127 824.4,120.6 Z"/>
  <path class="w" d="M904.1,103 C905.4,101.6 907,101.8 908,102.8 C912,110 915,120 915.6,128 C915,129.2 913.8,129.4 912.8,128.6 C911.8,120 909,110 904.1,103 Z"/>
  <!-- front cradle arm (left) -->
  <path class="w" d="M814.8,134 L814.8,131.2 L817.4,129.6 L821.6,130.4 L822.8,132 L822.8,143 C822.6,148 820.4,152.6 817.6,154.4 L812.6,154.6 L809,151 L806.6,146.8 C810.6,146 813.6,142 814.8,134 Z"/>
  <path class="o" d="M817.4,129.6 L817.8,140 C817.4,145 815,149.6 812.4,151.4 M821.6,130.4 L821.6,134 M812.4,151.4 L812.6,154.6 M812.4,151.4 L809,151"/>
  <!-- right cradle bracket -->
  <path class="w" d="M915.3,102.1 C918,100.8 920.5,101 922,103 L923.4,110.6 L924.2,110 L925.8,112.4 L925.6,121 C925.4,125.6 923.4,129.4 920.6,131.6 L918.6,137 L916.6,137.6 L914.8,131 C916.6,128.6 917.4,125 917,121 C916.6,114 915.6,107 915.3,102.1 Z"/>
  <path class="o" d="M918.6,112.6 L920.8,111.2 L923.4,111.8 M918.6,112.6 L919.2,122 C919.2,126 918,129 916.2,131.4 M920.8,111.2 L921,114"/>
  <!-- connector -->
  <path class="w" d="M918.4,101.4 L946.3,97.4 C950,97.2 952.6,101 953,108 C953.3,113.6 952,117.6 950.8,118.4 L925.9,125 C926.2,117 923.4,107 918.4,101.4 Z"/>
  <path class="t" d="M938.4,99.2 C941.4,105 942.6,113 942,120.4" style="stroke-width:1.9"/>
  <path class="o" d="M945,97.8 L945.6,99 L947.2,98.8"/>


  <!-- ===== left wall flange ===== -->
  <ellipse class="a" cx="745.2" cy="262.2" rx="5.2" ry="6.6" transform="rotate(-38 745.2 262.2)"/>
  <g transform="translate(767.9,289)">
    <ellipse class="w" cx="-4" cy="1" rx="29.3" ry="33.8" transform="rotate(18)"/>
    <ellipse class="w" cx="0" cy="0" rx="29.3" ry="34" transform="rotate(18)"/>
  </g>
  <!-- left nut -->
  <path class="w" d="M759.3,294.3 L765.3,281.6 L779.5,276.3 L787.7,280.8 L791.4,284.8 L772.8,312.9 L763.1,304.7 Z"/>
  <path class="o" d="M765.3,281.6 L771.6,286 L787.7,280.8 M771.6,286 L767.6,297 L763.1,304.7 M767.6,297 L772.8,312.9"/>
  <!-- left valve cylinder -->
  <path class="w" d="M773,286 C777,281.5 783,281.6 789,284.4 L816.1,303.6 L812,325 L804.3,327 L789.5,319.1 L771.5,308.5 C768,302 769,292 773,286 Z"/>
  <path class="o" d="M773,286 C769.6,291 768.6,302 771.5,308.5" style="stroke-width:1.9"/>
  <path class="o" d="M793.2,287.4 C788.4,293 786.6,304 789.5,319.1" style="stroke-width:2"/>
  <path class="o" d="M796,289.4 C791.4,295 789.6,306 792.4,320.7"/>
  <path class="o" d="M810.4,299.6 C805.6,304 803.2,313 804.3,326.6" style="stroke-width:2.4"/>
  <path class="o" d="M813.4,301.6 C809,306 806.6,314 807.4,326"/>

  <!-- ===== spout ===== -->
  <path class="w" d="M845,321 C845,319 852,317.6 863.6,317.6 C875,317.6 882.4,319 882.4,321 L882.5,336 L880.6,339 C882,344 881,352 877,358 L872.8,362.8 C868,365.6 862,366 857,364 C849,361 842,352 841.8,345 C841.6,341 843,337 846,334.4 L844.9,332 Z"/>
  <path class="o" d="M845,321.4 C848,325.4 879,325.4 882.4,321.4"/>
  <path class="o" d="M844.9,330.4 C850,335.4 877,335.4 882.5,330.4 M845.6,334 C851,339 876,339 881.6,336"/>
  <path class="o" d="M845,332 C851,337 877,337 882.4,333" style="stroke-width:1.8"/>
  <!-- tube -->
  <path class="w" d="M874.3,337.7 C870,336.6 864.6,339 862.6,345 C860.6,351 863,359 868.4,362.1 L899.4,378.3 C901,379.4 903,380 905,379.8 L921.5,379 C926,379.6 929,384 930.4,389.4 C933,397 935,404 935.3,411 L935.3,421 L959.7,421 L959.7,411.3 C959.8,402 957,390 952.5,382 C948,372 938,360 926,355.4 C921,354.6 915,354.6 909.7,356.2 Z"/>
  <path class="o" d="M905.6,354.2 C899,358 895.4,368 897.4,377.2 M909.4,356 C903,360 899.6,370 902,379.2"/>
  <path class="o" d="M926,355.4 C918,358 913.6,370 921.5,379"/>
  <path class="o" d="M935.3,409.9 C940,414 955,414 959.7,410.6"/>
  <!-- aerator -->
  <path class="w" d="M933.8,420.6 C940,425.4 955,425.4 960.4,420.6 L960.4,429 C963.6,430 964,436 960.4,438.4 L960.4,441 C955,446 940,446 934.4,441 L934.4,438.4 C929.6,436 929.6,430 933.8,428.4 Z"/>
  <path class="o" d="M933.8,420.6 C940,425.4 955,425.4 960.4,420.6" style="stroke-width:2.2"/>
  <path class="o" d="M933.8,428.4 C940,433.4 955,433.4 960.4,429 M934.4,438.4 C940,443 955,443 960.4,438.4"/>
  <!-- ===== body: left arm, centre ===== -->
  <path class="w" d="M800.9,287.2 C805,284.6 809,283.6 812.7,282.8 L842.2,271.7 L847.7,265.3 L877.1,265.3 L880,281 L899,266 L919.5,265.9 L921.9,290 L905.4,295.3 L884,300 L878,322 L846,322 L838,312 L816.1,303.6 Z"/>
  <path class="o" d="M842.2,271.7 C848,276 851,281 851.1,284.8 C851.6,292 852.6,298 852.5,302 M847.7,265.3 C852,270 858,274.6 863,278 M851.1,284.8 C858,279 868,276.4 879,275.6 M853.4,278.4 C860,274.4 870,272.6 878.4,272.4 M872.6,265.8 C874,269 875.4,272 876.6,275.6 M852.5,302 L852,312 M852.5,302 C856,300 858,296 860.6,293"/>
  <!-- right arm box -->
  <path class="w" d="M898.3,266.5 L919.5,265.9 C921.6,272 922.4,282 921.9,290 L905.4,295.3 L896,300 Z"/>

  <!-- ===== right nut + valve + handle ===== -->
  <path class="w" d="M903,264.8 L910.6,250.6 L925.3,247.7 L934.8,254.2 L937.1,257.7 L921,268 L903,266 Z"/>
  <path class="o" d="M910.6,250.6 L917.1,254.2 L934.8,254.2 M917.1,254.2 L912.4,266"/>
  <path class="w" d="M914,262 C918,256.4 924,255 930,256.4 L937.1,257.7 L958.3,269.5 L968,278 L962,301 L949,304 L936,300 L921.9,290 C922.4,280 921.4,270 919.5,265.9 Z"/>
  <path class="o" d="M914,262 C916,258.4 921,258 925,260.4 C929,263.4 931,270 931,280 L931,287"/>
  <path class="o" d="M921.9,283 L931,283"/>
  <path class="o" d="M940,259.6 C935,264.6 932.2,275 933.4,291" style="stroke-width:2.4"/>
  <path class="o" d="M953,267 C948,272 945.4,281 946.6,296" style="stroke-width:2.4"/>
  <path class="o" d="M956,269 C951.4,274 949,283 950,297"/>

  <!-- ===== diverter ===== -->
  <path class="w" d="M866,286.6 C871,281.4 878,279.6 884,281 L902,294.4 C908,298 909.6,305 909,311 L901,321.6 L884,323 L870,322.4 C862,316 860,296 866,286.6 Z"/>
  <path class="o" d="M866,286.6 C860.4,295 861.6,314 869,322" style="stroke-width:2.6"/>
  <path class="o" d="M870.6,284.2 C865,293 866,312 873.4,321.6" style="stroke-width:1.9"/>
  <path class="o" d="M875,282.4 C870,291 870.6,310 877.6,321"/>
  <ellipse class="w" cx="895.6" cy="307.4" rx="12.4" ry="13.4" transform="rotate(-14 895.6 307.4)" style="stroke-width:1.5"/>
  <path class="o" d="M887,297.6 C882.4,302 882.6,314 888.6,319.6"/>
  <ellipse class="o" cx="897" cy="308" rx="7" ry="8" transform="rotate(-14 897 308)" style="stroke-width:2"/>

  <!-- ===== lever ===== -->
  <path class="w" d="M878.4,222.4 C875.6,228 874.4,234 874.6,240 C875,252 877,268 878.9,280.6 C884,283.4 892,283.4 897.1,280.6 C899,268 900.8,252 901.1,240 C901.3,234 899.8,228 896.7,222.4 Z"/>
  <path class="o" d="M878.9,280.4 C884,283.6 892,283.6 897.1,280.4" style="stroke-width:2.6"/>
  <path class="o" d="M874.8,242.4 C881,245.8 894,245.8 900.9,242.4"/>
  <path class="t" d="M882,242.4 C887,243.6 893,243.4 898.8,241.6 M883,246.8 C888,247.8 893,247.6 897.8,246.2" style="stroke-width:2.3"/>
  <path class="o" d="M879.6,280 C880,286 881,290 882.4,293.4"/>
  <path class="w" d="M878.4,222.4 C878.6,218.6 883,216.6 887.6,216.6 C892.4,216.6 896.6,218.6 896.7,222.4 C894,225.4 881,225.4 878.4,222.4 Z"/>
  <path class="o" d="M879.4,221.6 C883,224.6 892,224.6 895.8,221.6" style="stroke-width:3"/>
  <path class="w" d="M884.6,213 L883.8,217.6 C885.6,219 889.8,219 891.4,217.6 L890.4,213 Z"/>
  <circle class="w" cx="887.1" cy="208.2" r="5.7"/>

  <!-- ===== left handle (H) ===== -->
  <path class="w" d="M812.0,310.0 C815.0,305.0 822.0,304.0 826.0,306.0 L836.0,316.0 L826.0,336.0 L814.0,332.0 C809.0,326.0 809.0,316.0 812.0,310.0 Z"/>
  <path class="o" d="M812.0,310.0 C808.4,316.0 809.0,327.0 814.0,332.0" style="stroke-width:2.6"/>
  <path class="o" d="M815.6,308.5 C812.0,314.5 812.6,326.1 817.6,331.3" style="stroke-width:1.4"/>
  <g transform="translate(827.2,324.3) rotate(-99.6)">
    <path class="w" d="M9.0,-4.4 C15.5,-3.3 20.3,-3.1 24.6,-4.3 L25.6,-4.9 C26.0,-6.4 28.4,-6.7 32.3,-6.4 C36.2,-6.0 38.3,-2.6 38.3,0 C38.3,2.6 36.2,6.0 32.3,6.4 C28.4,6.7 26.0,6.4 25.6,4.9 L24.6,4.3 C20.3,3.1 15.5,3.3 9.0,4.4 Z"/>
    <path class="t" d="M25.4,-5 L25.4,5" style="stroke-width:2.6"/>
    <path class="t" d="M35.9,-4.2 C37.9,-1.8 37.9,1.8 35.9,4.2" style="stroke-width:2.7"/>
    </g>
  <g transform="translate(827.2,324.3) rotate(101.3)">
    <path class="w" d="M9.0,-4.4 C11.8,-3.3 13.9,-3.1 15.4,-4.3 L16.4,-4.9 C16.8,-6.4 19.5,-6.7 23.7,-6.4 C27.9,-6.0 30.2,-2.6 30.2,0 C30.2,2.6 27.9,6.0 23.7,6.4 C19.5,6.7 16.8,6.4 16.4,4.9 L15.4,4.3 C13.9,3.1 11.8,3.3 9.0,4.4 Z"/>
    <path class="t" d="M16.2,-5 L16.2,5" style="stroke-width:2.6"/>
    <path class="t" d="M27.8,-4.2 C29.8,-1.8 29.8,1.8 27.8,4.2" style="stroke-width:2.7"/>
    </g>
  <g transform="translate(827.2,324.3) rotate(178.6)">
    <path class="w" d="M9.0,-4.4 C14.8,-3.3 19.2,-3.1 23.0,-4.3 L24.0,-4.9 C24.4,-6.4 27.1,-6.7 31.4,-6.4 C35.6,-6.0 37.9,-2.6 37.9,0 C37.9,2.6 35.6,6.0 31.4,6.4 C27.1,6.7 24.4,6.4 24.0,4.9 L23.0,4.3 C19.2,3.1 14.8,3.3 9.0,4.4 Z"/>
    <path class="t" d="M23.8,-5 L23.8,5" style="stroke-width:2.6"/>
    <ellipse class="a" cx="35.7" cy="0" rx="2.3" ry="4.4"/>
    <ellipse cx="35.8" cy="0" rx="0.8" ry="2" fill="#fff"/>
    </g>
  <g transform="translate(827.2,324.3) rotate(-21.8)">
    <path class="w" d="M9.0,-4.4 C10.8,-3.3 12.2,-3.1 13.0,-4.3 L14.0,-4.9 C14.4,-6.4 17.6,-6.7 22.3,-6.4 C27.0,-6.0 29.6,-2.6 29.6,0 C29.6,2.6 27.0,6.0 22.3,6.4 C17.6,6.7 14.4,6.4 14.0,4.9 L13.0,4.3 C12.2,3.1 10.8,3.3 9.0,4.4 Z"/>
    <path class="t" d="M13.8,-5 L13.8,5" style="stroke-width:2.6"/>
    <path class="t" d="M27.2,-4.2 C29.2,-1.8 29.2,1.8 27.2,4.2" style="stroke-width:2.7"/>
    </g>
  <path class="w" d="M821.7,312.1 L831.7,312.7 L838.8,319.3 L839.0,328.9 L832.2,336.1 L822.2,335.9 L815.4,329.5 L815.2,319.1 Z"/>
  <circle cx="827.2" cy="324.3" r="8.1" fill="#fff" stroke="#000" stroke-width="4.2"/>
  <circle class="o" cx="827.5" cy="324.6" r="4.7" style="stroke-width:0.9"/>
  <text x="827.6" y="327.2" text-anchor="middle" style="font-family:'Liberation Sans',sans-serif;font-weight:bold;font-size:7.2px;stroke-width:0.3px">H</text>
  <!-- ===== right handle (C) ===== -->
  <path class="w" d="M957.0,281.9 C960.0,276.9 967.0,275.9 971.0,277.9 L981.0,287.9 L971.0,307.9 L959.0,303.9 C954.0,297.9 954.0,287.9 957.0,281.9 Z"/>
  <path class="o" d="M957.0,281.9 C953.4,287.9 954.0,298.9 959.0,303.9" style="stroke-width:2.6"/>
  <path class="o" d="M960.6,280.4 C957.0,286.4 957.6,298.0 962.6,303.2" style="stroke-width:1.4"/>
  <g transform="translate(972.2,296.2) rotate(-99.3)">
    <path class="w" d="M9.0,-4.4 C15.6,-3.3 20.6,-3.1 25.0,-4.3 L26.0,-4.9 C26.4,-6.4 28.7,-6.7 32.4,-6.4 C36.1,-6.0 38.2,-2.6 38.2,0 C38.2,2.6 36.1,6.0 32.4,6.4 C28.7,6.7 26.4,6.4 26.0,4.9 L25.0,4.3 C20.6,3.1 15.6,3.3 9.0,4.4 Z"/>
    <path class="t" d="M25.8,-5 L25.8,5" style="stroke-width:2.6"/>
    <path class="t" d="M35.8,-4.2 C37.8,-1.8 37.8,1.8 35.8,4.2" style="stroke-width:2.7"/>
    </g>
  <g transform="translate(972.2,296.2) rotate(102.6)">
    <path class="w" d="M9.0,-4.4 C12.2,-3.3 14.6,-3.1 16.4,-4.3 L17.4,-4.9 C17.8,-6.4 20.6,-6.7 24.8,-6.4 C29.1,-6.0 31.4,-2.6 31.4,0 C31.4,2.6 29.1,6.0 24.8,6.4 C20.6,6.7 17.8,6.4 17.4,4.9 L16.4,4.3 C14.6,3.1 12.2,3.3 9.0,4.4 Z"/>
    <path class="t" d="M17.2,-5 L17.2,5" style="stroke-width:2.6"/>
    <path class="t" d="M29.0,-4.2 C31.0,-1.8 31.0,1.8 29.0,4.2" style="stroke-width:2.7"/>
    </g>
  <g transform="translate(972.2,296.2) rotate(177.9)">
    <path class="w" d="M9.0,-4.4 C15.2,-3.3 19.9,-3.1 24.0,-4.3 L25.0,-4.9 C25.4,-6.4 28.1,-6.7 32.4,-6.4 C36.7,-6.0 39.0,-2.6 39.0,0 C39.0,2.6 36.7,6.0 32.4,6.4 C28.1,6.7 25.4,6.4 25.0,4.9 L24.0,4.3 C19.9,3.1 15.2,3.3 9.0,4.4 Z"/>
    <path class="t" d="M24.8,-5 L24.8,5" style="stroke-width:2.6"/>
    <ellipse class="a" cx="36.8" cy="0" rx="2.3" ry="4.4"/>
    <ellipse cx="36.9" cy="0" rx="0.8" ry="2" fill="#fff"/>
    </g>
  <g transform="translate(972.2,296.2) rotate(-22.3)">
    <path class="w" d="M9.0,-4.4 C11.2,-3.3 12.8,-3.1 13.8,-4.3 L14.8,-4.9 C15.2,-6.4 17.9,-6.7 22.1,-6.4 C26.3,-6.0 28.6,-2.6 28.6,0 C28.6,2.6 26.3,6.0 22.1,6.4 C17.9,6.7 15.2,6.4 14.8,4.9 L13.8,4.3 C12.8,3.1 11.2,3.3 9.0,4.4 Z"/>
    <path class="t" d="M14.6,-5 L14.6,5" style="stroke-width:2.6"/>
    <path class="t" d="M26.2,-4.2 C28.2,-1.8 28.2,1.8 26.2,4.2" style="stroke-width:2.7"/>
    </g>
  <path class="w" d="M966.7,284.0 L976.7,284.6 L983.8,291.2 L984.0,300.8 L977.2,308.0 L967.2,307.8 L960.4,301.4 L960.2,291.0 Z"/>
  <circle cx="972.2" cy="296.2" r="8.1" fill="#fff" stroke="#000" stroke-width="4.2"/>
  <circle class="o" cx="972.5" cy="296.5" r="4.7" style="stroke-width:0.9"/>
  <text x="972.6" y="299.1" text-anchor="middle" style="font-family:'Liberation Sans',sans-serif;font-weight:bold;font-size:7.2px;stroke-width:0.3px">C</text>
</g>
</svg>
</body>
</html>
